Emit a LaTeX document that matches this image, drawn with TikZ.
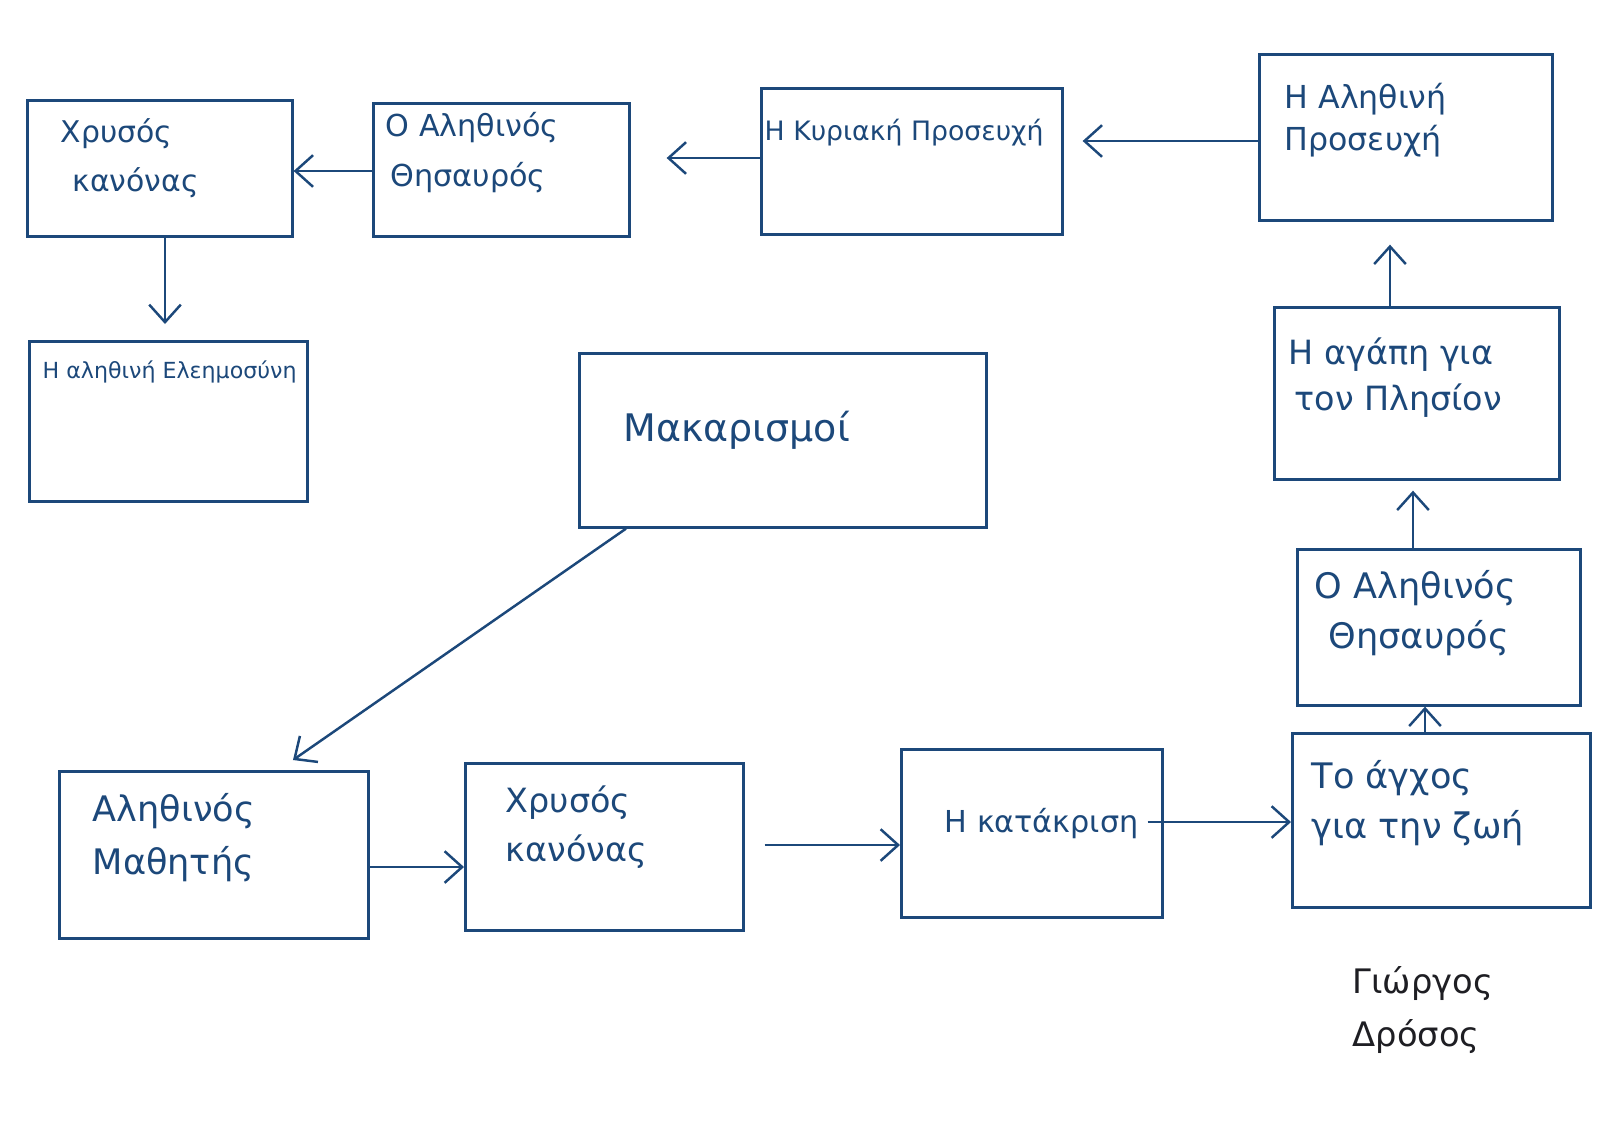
\documentclass[tikz,border=0pt]{standalone}
\usepackage{fontspec}
\setmainfont{DejaVu Sans}
\usetikzlibrary{arrows.meta}
\definecolor{ink}{RGB}{28,72,122}
\definecolor{pencil}{RGB}{30,30,35}
\tikzset{
  box/.style={draw=ink, line width=0.75pt, anchor=north west, inner sep=0pt},
  lbl/.style={anchor=north west, inner sep=0pt, align=left, text=ink},
  arr/.style={draw=ink, line width=0.7pt, -{Straight Barb[length=5pt,width=9pt]}}
}
\begin{document}
\begin{tikzpicture}[x=0.1mm,y=-0.1mm]
\fill[white] (0,0) rectangle (1600,1132);
\useasboundingbox (0,0) rectangle (1600,1132);

% boxes
\node[box, minimum width=26.5mm, minimum height=13.6mm] (b1) at (26,99) {};
\node[box, minimum width=25.6mm, minimum height=13.3mm] (b2) at (372,102) {};
\node[box, minimum width=30.1mm, minimum height=14.6mm] (b3) at (760,87) {};
\node[box, minimum width=29.3mm, minimum height=16.6mm] (b4) at (1258,53) {};
\node[box, minimum width=27.8mm, minimum height=16.0mm] (b5) at (28,340) {};
\node[box, minimum width=40.7mm, minimum height=17.4mm] (b6) at (578,352) {};
\node[box, minimum width=28.5mm, minimum height=17.2mm] (b7) at (1273,306) {};
\node[box, minimum width=28.3mm, minimum height=15.6mm] (b8) at (1296,548) {};
\node[box, minimum width=30.9mm, minimum height=16.7mm] (b9) at (58,770) {};
\node[box, minimum width=27.8mm, minimum height=16.7mm] (b10) at (464,762) {};
\node[box, minimum width=26.1mm, minimum height=16.8mm] (b11) at (900,748) {};
\node[box, minimum width=29.8mm, minimum height=17.4mm] (b12) at (1291,732) {};

% texts
\node[lbl, font=\fontsize{8.5}{14}\selectfont] (t1) at (60,118) {Χρυσός\\[0pt]\hspace*{1.2mm}κανόνας};
\node[lbl, font=\fontsize{8.6}{14}\selectfont] (t2) at (385,112) {Ο Αληθινός\\[0pt]\hspace*{0.5mm}Θησαυρός};
\node[lbl, font=\fontsize{7.6}{12}\selectfont] (t3) at (764,118) {Η Κυριακή Προσευχή};
\node[lbl, font=\fontsize{9}{12}\selectfont] (t4) at (1284,82) {Η Αληθινή\\Προσευχή};
\node[lbl, font=\fontsize{6.3}{10}\selectfont] (t5) at (42,360) {Η αληθινή Ελεημοσύνη};
\node[lbl, font=\fontsize{10.8}{14}\selectfont] (t6) at (623,410) {Μακαρισμοί};
\node[lbl, font=\fontsize{9.5}{13}\selectfont] (t7) at (1288,337) {Η αγάπη για\\\hspace*{0.6mm}τον Πλησίον};
\node[lbl, font=\fontsize{10}{14}\selectfont] (t8) at (1314,570) {Ο Αληθινός\\\hspace*{1.4mm}Θησαυρός};
\node[lbl, font=\fontsize{10}{15}\selectfont] (t9) at (92,793) {Αληθινός\\Μαθητής};
\node[lbl, font=\fontsize{9.5}{14}\selectfont] (t10) at (505,785) {Χρυσός\\κανόνας};
\node[lbl, font=\fontsize{8.6}{12}\selectfont] (t11) at (944,808) {Η κατάκριση};
\node[lbl, font=\fontsize{10}{14}\selectfont] (t12) at (1311,760) {Το άγχος\\για την ζωή};
\node[anchor=north west, inner sep=0pt, align=left, text=pencil, font=\fontsize{9.6}{15}\selectfont] (sig) at (1352,966) {Γιώργος\\Δρόσος};

% connectors
\coordinate (ya) at (0,171);
\coordinate (yb) at (0,158);
\coordinate (yc) at (0,141);
\coordinate (yd) at (0,867);
\coordinate (ye) at (0,845);
\coordinate (yf) at (0,822);
\coordinate (xa) at (165,0);
\coordinate (xb) at (1425,0);
\coordinate (xc) at (1413,0);
\coordinate (xd) at (1390,0);

\draw[arr] (b2.west |- ya) -- (b1.east |- ya);
\draw[arr, shorten >=3.6mm] (b3.west |- yb) -- (b2.east |- yb);
\draw[arr, shorten >=1.9mm] (b4.west |- yc) -- (b3.east |- yc);
\draw[arr, shorten >=1.6mm] (xa |- b1.south) -- (xa |- b5.north);
\draw[arr] ([xshift=4.8mm]b6.south west) -- ([xshift=23.5mm,yshift=1mm]b9.north west);
\draw[arr] (b9.east |- yd) -- (b10.west |- yd);
\draw[arr, shorten <=2mm] (b10.east |- ye) -- (b11.west |- ye);
\draw[arr, shorten <=-1.6mm] (b11.east |- yf) -- (b12.west |- yf);
\draw[arr] (xb |- b12.north) -- (xb |- b8.south);
\draw[arr, shorten >=1mm] (xc |- b8.north) -- (xc |- b7.south);
\draw[arr, shorten >=2.3mm] (xd |- b7.north) -- (xd |- b4.south);
\end{tikzpicture}
\end{document}
